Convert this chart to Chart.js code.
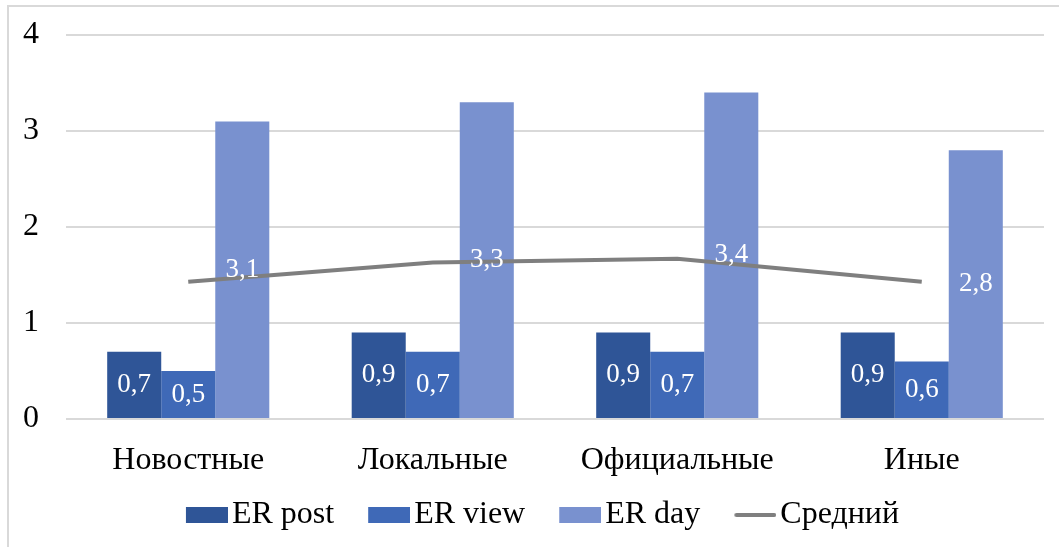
<!DOCTYPE html>
<html>
<head>
<meta charset="utf-8">
<script src="https://cdn.jsdelivr.net/npm/chart.js@4/dist/chart.umd.min.js"></script>
<style>
  html, body { margin: 0; padding: 0; background: #fff; }
  #wrap { position: relative; width: 1059px; height: 547px; overflow: hidden; }
  #frame { position: absolute; left: 7px; top: 5px; width: 1100px; height: 600px;
           border-left: 2px solid #d9d9d9; border-top: 2px solid #d9d9d9; pointer-events: none; }
  canvas { position: absolute; left: 0; top: 0; }
</style>
</head>
<body>
<div id="wrap">
  <canvas id="c" width="1059" height="547"></canvas>
  <div id="frame"></div>
</div>
<script>
const categories = ['Новостные', 'Локальные', 'Официальные', 'Иные'];
const erPost = [0.7, 0.9, 0.9, 0.9];
const erView = [0.5, 0.7, 0.7, 0.6];
const erDay = [3.1, 3.3, 3.4, 2.8];
const average = [1.43, 1.63, 1.67, 1.43];
const yTicks = [0, 1, 2, 3, 4];

const FONT = "'Liberation Serif', 'Times New Roman', serif";
const colors = { post: '#2F5597', view: '#3F69B7', day: '#7991CF', avg: '#7F7F7F' };

// legend swatch: 54px canvas, visible 42x16 part on the right
function swatch(color, isLine) {
  const cv = document.createElement('canvas');
  cv.width = 54; cv.height = 16;
  const x = cv.getContext('2d');
  if (isLine) {
    x.strokeStyle = color; x.lineWidth = 4; x.lineCap = 'round';
    x.beginPath(); x.moveTo(14, 8); x.lineTo(52, 8); x.stroke();
  } else {
    x.fillStyle = color; x.fillRect(12, 0, 42, 16);
  }
  return cv;
}

const labelPlugin = {
  id: 'barLabels',
  afterDatasetsDraw(chart) {
    const ctx = chart.ctx;
    ctx.save();
    ctx.font = '27px ' + FONT;
    ctx.fillStyle = '#ffffff';
    ctx.textAlign = 'center';
    ctx.textBaseline = 'middle';
    chart.data.datasets.forEach((ds, i) => {
      if (ds.type === 'line') return;
      const meta = chart.getDatasetMeta(i);
      meta.data.forEach((bar, j) => {
        const v = ds.data[j];
        const cy = (bar.y + bar.base) / 2;
        ctx.fillText(String(v).replace('.', ','), bar.x, cy);
      });
    });
    ctx.restore();
  }
};

const legendShift = {
  id: 'legendShift',
  afterLayout(chart) {
    const lg = chart.legend;
    if (lg) { lg.left += 9; lg.right += 9; lg.top -= 15; lg.bottom -= 15; }
  }
};

new Chart(document.getElementById('c'), {
  data: {
    labels: categories,
    datasets: [
      { type: 'line', label: 'Средний', data: average, borderColor: colors.avg, backgroundColor: colors.avg,
        borderWidth: 4, pointRadius: 0, tension: 0, order: 0, pointStyle: swatch(colors.avg, true) },
      { type: 'bar', label: 'ER post', data: erPost, backgroundColor: colors.post, order: 1, pointStyle: swatch(colors.post) },
      { type: 'bar', label: 'ER view', data: erView, backgroundColor: colors.view, order: 1, pointStyle: swatch(colors.view) },
      { type: 'bar', label: 'ER day', data: erDay, backgroundColor: colors.day, order: 1, pointStyle: swatch(colors.day) }
    ]
  },
  options: {
    responsive: false,
    animation: false,
    layout: { padding: { left: 23, right: 15, top: 35, bottom: -9 } },
    datasets: { bar: { categoryPercentage: 0.663, barPercentage: 1.0 } },
    scales: {
      x: {
        grid: { display: false, drawTicks: false },
        border: { display: false },
        ticks: { font: { family: FONT, size: 32 }, color: '#000', padding: 22 },
        afterFit(axis) { axis.height = 61; axis.paddingLeft = 0; axis.paddingRight = 0; }
      },
      y: {
        min: 0, max: 4,
        afterBuildTicks(axis) { axis.ticks = yTicks.map(v => ({ value: v })); },
        grid: { color: '#d9d9d9', lineWidth: 2, drawTicks: false },
        border: { display: false },
        ticks: { font: { family: FONT, size: 32 }, color: '#000', padding: 27 },
        afterFit(axis) { axis.width = 43; axis.paddingTop = 0; axis.paddingBottom = 0; }
      }
    },
    plugins: {
      tooltip: { enabled: false },
      legend: {
        position: 'bottom',
        labels: {
          usePointStyle: true,
          pointStyleWidth: 30,
          boxHeight: 16,
          padding: 34,
          color: '#000',
          font: { family: FONT, size: 32 },
          generateLabels(chart) {
            const order = [1, 2, 3, 0];
            return order.map(i => {
              const ds = chart.data.datasets[i];
              return { text: ds.label, pointStyle: ds.pointStyle, fillStyle: ds.backgroundColor,
                       strokeStyle: ds.backgroundColor, lineWidth: 0, datasetIndex: i, hidden: false, fontColor: '#000' };
            });
          }
        }
      }
    }
  },
  plugins: [labelPlugin, legendShift]
});
</script>
</body>
</html>
